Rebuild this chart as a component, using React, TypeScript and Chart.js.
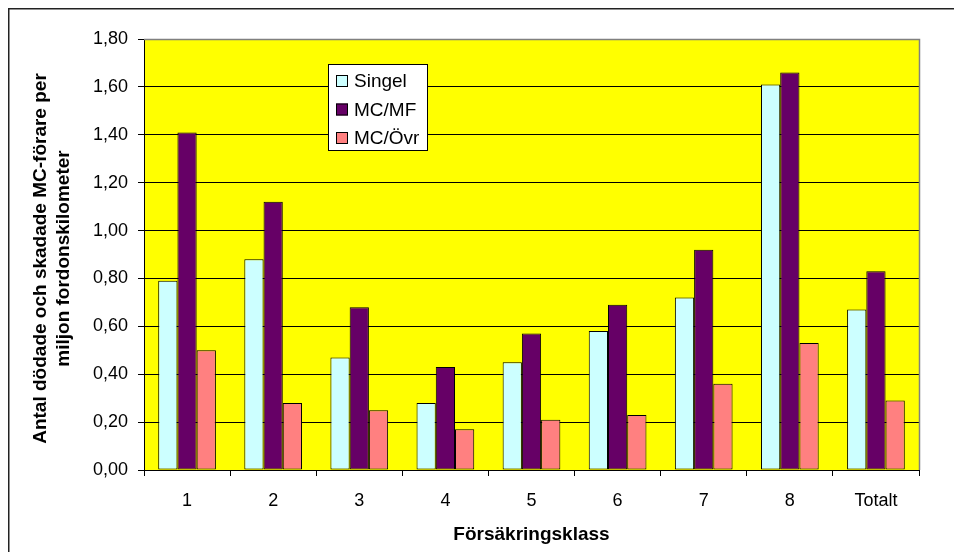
import React, { useEffect, useRef } from "react";
import { Chart, registerables } from "chart.js";

Chart.register(...registerables);

// Försäkringsklass categories and the three accident types
const categories = ["1", "2", "3", "4", "5", "6", "7", "8", "Totalt"];
const singel = [0.79, 0.88, 0.47, 0.28, 0.45, 0.58, 0.72, 1.61, 0.67];
const mcMf = [1.41, 1.12, 0.68, 0.43, 0.57, 0.69, 0.92, 1.66, 0.83];
const mcOvr = [0.5, 0.28, 0.25, 0.17, 0.21, 0.23, 0.36, 0.53, 0.29];

const seriesNames = ["Singel", "MC/MF", "MC/Övr"];
const seriesColors = ["#CCFFFF", "#660066", "#FF8080"];

const yTitle = ["Antal dödade och skadade MC-förare per", "miljon fordonskilometer"];
const xTitle = "Försäkringsklass";

const FONT = "'Liberation Sans', Arial, sans-serif";

// Frame, yellow plot background, plot border, y title and the inset legend box
const decorations = {
  id: "decorations",
  beforeDraw(chart: any) {
    const { ctx, width, height, chartArea } = chart;
    ctx.save();
    ctx.fillStyle = "#FFFFFF";
    ctx.fillRect(0, 0, width, height);
    ctx.strokeStyle = "#222222";
    ctx.lineWidth = 1.5;
    ctx.beginPath();
    ctx.moveTo(0.75, height + 10);
    ctx.lineTo(0.75, 0.75);
    ctx.lineTo(width + 10, 0.75);
    ctx.stroke();
    ctx.fillStyle = "#FFFF00";
    ctx.fillRect(chartArea.left, chartArea.top, chartArea.right - chartArea.left, chartArea.bottom - chartArea.top);
    ctx.restore();
  },
  afterDraw(chart: any) {
    const { ctx, chartArea } = chart;
    ctx.save();
    // grey top/right edge of the plot area
    ctx.strokeStyle = "#808080";
    ctx.lineWidth = 1.5;
    ctx.beginPath();
    ctx.moveTo(chartArea.left, chartArea.top + 0.5);
    ctx.lineTo(chartArea.right + 0.5, chartArea.top + 0.5);
    ctx.lineTo(chartArea.right + 0.5, chartArea.bottom);
    ctx.stroke();

    // rotated two-line y-axis title
    ctx.save();
    const cy = (chartArea.top + chartArea.bottom) / 2 + 4;
    ctx.translate(33, cy);
    ctx.rotate(-Math.PI / 2);
    ctx.font = `bold 19px ${FONT}`;
    ctx.fillStyle = "#000000";
    ctx.textAlign = "center";
    ctx.textBaseline = "middle";
    yTitle.forEach((line, i) => ctx.fillText(line, 0, i * 22.5));
    ctx.restore();

    // legend
    const lx = chartArea.left + 184;
    const ly = chartArea.top + 25;
    const lw = 99;
    const lh = 86;
    ctx.fillStyle = "#FFFFFF";
    ctx.fillRect(lx, ly, lw, lh);
    ctx.strokeStyle = "#000000";
    ctx.lineWidth = 1;
    ctx.strokeRect(lx + 0.5, ly + 0.5, lw, lh);
    ctx.font = `19px ${FONT}`;
    ctx.textBaseline = "middle";
    ctx.textAlign = "left";
    seriesNames.forEach((name, i) => {
      const ry = ly + 17 + i * 28.5;
      ctx.fillStyle = seriesColors[i];
      ctx.fillRect(lx + 8, ry - 6, 12, 12);
      ctx.strokeStyle = "#000000";
      ctx.strokeRect(lx + 8.5, ry - 5.5, 11, 11);
      ctx.fillStyle = "#000000";
      ctx.fillText(name, lx + 26, ry + 1);
    });
    ctx.restore();
  },
};

export default function App() {
  const canvasRef = useRef<HTMLCanvasElement | null>(null);

  useEffect(() => {
    if (!canvasRef.current) return;
    const values = [singel, mcMf, mcOvr];
    const chart = new Chart(canvasRef.current, {
      type: "bar",
      data: {
        labels: categories,
        datasets: seriesNames.map((name, i) => ({
          label: name,
          data: values[i],
          backgroundColor: seriesColors[i],
          borderColor: "#000000",
          borderWidth: 1,
          borderSkipped: false,
          inflateAmount: 0,
          categoryPercentage: 0.67,
          barPercentage: 1,
        })),
      },
      options: {
        responsive: false,
        animation: false,
        layout: { padding: { top: 31, right: 43, left: 0, bottom: 0 } },
        plugins: {
          legend: { display: false },
          tooltip: { enabled: false },
        },
        scales: {
          x: {
            offset: true,
            grid: {
              offset: true,
              drawOnChartArea: false,
              drawTicks: true,
              tickLength: 6,
              color: "#000000",
            },
            border: { color: "#000000", width: 1 },
            ticks: {
              color: "#000000",
              padding: 14,
              font: { family: FONT, size: 18 },
              maxRotation: 0,
            },
            title: {
              display: true,
              text: xTitle,
              color: "#000000",
              font: { family: FONT, size: 19, weight: "bold" },
              padding: { top: 0, bottom: 6 },
            },
            afterFit(scale: any) {
              scale.height = 82;
            },
          },
          y: {
            min: 0,
            max: 1.8,
            grid: {
              color: "#000000",
              tickLength: 6,
              drawTicks: true,
            },
            border: { color: "#000000", width: 1 },
            ticks: {
              stepSize: 0.2,
              color: "#000000",
              padding: 10,
              font: { family: FONT, size: 18 },
              callback: (v: any) => Number(v).toFixed(2).replace(".", ","),
            },
            afterFit(scale: any) {
              scale.width = 136;
            },
          },
        },
      },
      plugins: [decorations],
    });
    return () => chart.destroy();
  }, []);

  return (
    <div style={{ width: 954, height: 544 }}>
      <canvas ref={canvasRef} width={954} height={544} style={{ display: "block" }} />
    </div>
  );
}
